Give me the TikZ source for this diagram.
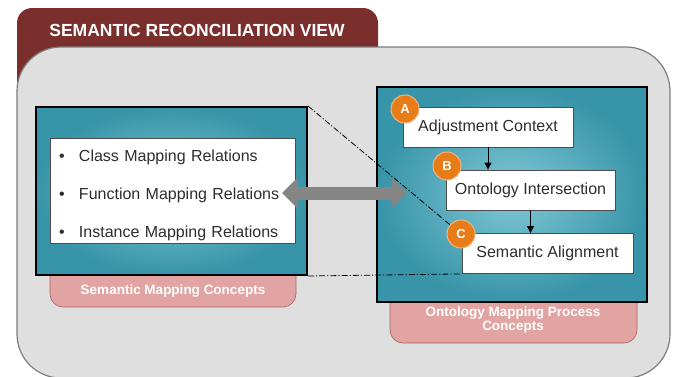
\documentclass[tikz,border=0pt]{standalone}
\usepackage{fontspec}
\setmainfont{Liberation Sans}
\usetikzlibrary{arrows.meta}

\definecolor{tabred}{RGB}{122,47,45}
\definecolor{panelgray}{RGB}{223,223,223}
\definecolor{paneledge}{RGB}{125,125,125}
\definecolor{tealdark}{RGB}{56,148,168}
\definecolor{teallight}{RGB}{128,200,214}
\definecolor{tagpink}{RGB}{226,164,162}
\definecolor{tagedge}{RGB}{168,96,94}
\definecolor{markorange}{RGB}{232,124,24}
\definecolor{textgray}{RGB}{45,45,45}

\begin{document}
\begin{tikzpicture}[x=1pt,y=1pt,yscale=-1,
	conceptbox/.style={draw=black,line width=2pt,inner color=teallight,outer color=tealdark,inner sep=0pt},
	stepbox/.style={draw=black!70,line width=0.8pt,fill=white,minimum height=40pt,inner sep=0pt,text=textgray,font=\fontsize{16}{19}\selectfont},
	marker/.style={circle,fill=markorange,draw=markorange!55!white,line width=1pt,minimum size=28pt,inner sep=0pt,text=white,font=\bfseries\fontsize{13}{13}\selectfont},
	tag/.style={text=white,font=\bfseries\fontsize{13.5}{14}\selectfont,align=center},
	linkline/.style={line width=0.8pt,dash pattern=on 6pt off 2pt on 1.2pt off 2pt},
	flow/.style={-{Triangle[length=7pt,width=7pt]},line width=0.9pt}]
	\useasboundingbox (0,0) rectangle (677,376);

	% Tab and panel
	\fill [tabred, rounded corners=15pt] (17,8) rectangle (378,120);
	\draw [fill=panelgray, draw=paneledge, line width=1.2pt, rounded corners=44pt] (17,47) rectangle (670,378);
	% Text Node
	\node [text=white, font=\bfseries\fontsize{17.5}{20}\selectfont] (title) at (197,30) {SEMANTIC RECONCILIATION VIEW};

	% Concept tags
	\draw [fill=tagpink, draw=tagedge, line width=0.6pt, rounded corners=13pt] (50,255) -- (50,307) -- (296,307) -- (296,255) -- cycle;
	\node [tag] (maptag) at (173,291) {Semantic Mapping Concepts};
	\draw [fill=tagpink, draw=tagedge, line width=0.6pt, rounded corners=13pt] (390,285) -- (390,343) -- (637,343) -- (637,285) -- cycle;
	\node [tag] (proctag) at (513,320) {Ontology Mapping Process\\Concepts};

	% Concept boxes
	\node [conceptbox, minimum width=271pt, minimum height=168pt] (mapbox) at (171.5,191) {};
	\node [conceptbox, minimum width=270pt, minimum height=215pt] (procbox) at (512,194.5) {};

	% Text Node
	\node [draw=black!70, line width=0.8pt, fill=white, text width=227pt, inner xsep=9pt, inner ysep=0pt, minimum height=105pt, align=left, text=textgray, font=\fontsize{16}{38}\selectfont] (relations) at (172.5,190.5)
		{\rule{0pt}{20.5pt}\makebox[20pt][l]{\textbullet}Class Mapping Relations\\
		 \makebox[20pt][l]{\textbullet}Function Mapping Relations\\
		 \makebox[20pt][l]{\textbullet}Instance Mapping Relations};

	% Text Node
	\node [stepbox, minimum width=170pt] (adjust) at (488,127) {Adjustment Context};
	\node [stepbox, minimum width=169pt] (intersect) at (530.5,190) {Ontology Intersection};
	\node [stepbox, minimum width=171pt] (align) at (547.5,253.5) {Semantic Alignment};
	\node [marker] (markA) at (405,109) {A};
	\node [marker] (markB) at (447,166) {B};
	\node [marker] (markC) at (461,234) {C};

	% Connection
	\draw [flow] (adjust.south) -- (adjust.south |- intersect.north);
	\draw [flow] (intersect.south) -- (intersect.south |- align.north);
	\draw [linkline] (mapbox.north east) -- (markC);
	\draw [linkline] (mapbox.south east) -- (align.south west);

	% Connection
	\coordinate (tipL) at (282,193);
	\coordinate (tipR) at (407,193);
	\draw [line width=13pt, draw=black!48, {Triangle[length=15pt,width=29pt]}-{Triangle[length=15pt,width=29pt]}] (tipL) -- (tipR);

\end{tikzpicture}
\end{document}
